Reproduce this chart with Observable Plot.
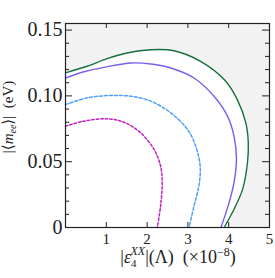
<!DOCTYPE html>
<html><head><meta charset="utf-8">
<script src="https://cdn.jsdelivr.net/npm/d3@7"></script>
<script src="https://cdn.jsdelivr.net/npm/@observablehq/plot@0.6"></script>
<style>body{margin:0;background:#fff;} svg{display:block}</style>
</head><body><div id="chart"></div>
<script>
// Curve data (x in units of 1e-8, y in eV)
const greenX = [0, 0.53, 1.02, 1.51, 2.09, 2.66, 3.31, 3.89, 4.21, 4.42, 4.48, 4.46, 4.34, 4.13, 3.89];
const greenY = [0.1175, 0.1225, 0.1283, 0.1326, 0.1351, 0.1343, 0.1263, 0.1124, 0.0972, 0.0795, 0.0644, 0.0492, 0.029, 0.0139, 0];
const purpleX = [0, 0.5, 1.0, 1.6, 2.09, 2.58, 3.15, 3.64, 3.97, 4.13, 4.19, 4.13, 4.01, 3.81];
const purpleY = [0.1136, 0.1187, 0.122, 0.125, 0.1242, 0.1212, 0.1136, 0.0997, 0.0846, 0.0694, 0.0518, 0.0341, 0.0189, 0];
const blueX = [0, 0.53, 1.10, 1.60, 2.09, 2.58, 2.99, 3.19, 3.30, 3.27, 3.15, 3.03];
const blueY = [0.0934, 0.0985, 0.1003, 0.0997, 0.096, 0.0871, 0.0745, 0.0619, 0.0467, 0.0316, 0.0164, 0];
const magentaX = [0, 0.45, 1.02, 1.43, 1.84, 2.17, 2.33, 2.37, 2.33, 2.25];
const magentaY = [0.077, 0.0808, 0.0826, 0.080, 0.072, 0.0593, 0.0467, 0.0341, 0.0164, 0];
const cornerX = [0];
const cornerY = [0];

const xTickLabels = [1, 2, 3, 4, 5];
const xInnerTicks = [1, 2, 3, 4];
const yTickLabels = [0, 0.05, 0.10, 0.15];
const yMinorTicks = [0.01, 0.02, 0.03, 0.04, 0.06, 0.07, 0.08, 0.09, 0.11, 0.12, 0.13, 0.14];

const W = 275, H = 278, mL = 65, mR = 6, mT = 23, mB = 51;
const fw = W - mL - mR, fh = H - mT - mB;
const pts = (xs, ys) => xs.map((x, i) => ({x, y: ys[i]}));
const green = pts(greenX, greenY);
const fillPoly = green.concat(pts(cornerX, cornerY));
const ink = "#222";
const FONT = "'Liberation Serif', 'Times New Roman', Times, 'DejaVu Serif', serif";

const plot = Plot.plot({
  width: W, height: H,
  marginLeft: mL, marginRight: mR, marginTop: mT, marginBottom: mB,
  style: {fontFamily: FONT, background: "white", color: ink, overflow: "visible"},
  x: {domain: [0, 5]},
  y: {domain: [0, 0.155]},
  marks: [
    Plot.frame({fill: "#f2f2f2", stroke: null}),
    Plot.line(fillPoly, {x: "x", y: "y", fill: "white", stroke: null, curve: "catmull-rom", clip: true}),
    Plot.line(pts(magentaX, magentaY), {x: "x", y: "y", stroke: "#c21fc4", strokeWidth: 1.5, strokeDasharray: "2.5,2", curve: "catmull-rom"}),
    Plot.line(pts(blueX, blueY), {x: "x", y: "y", stroke: "#4d9ffb", strokeWidth: 1.5, strokeDasharray: "3,2", curve: "catmull-rom"}),
    Plot.line(pts(purpleX, purpleY), {x: "x", y: "y", stroke: "#7660f2", strokeWidth: 1.4, curve: "catmull-rom"}),
    Plot.line(green, {x: "x", y: "y", stroke: "#17703f", strokeWidth: 1.4, curve: "catmull-rom"}),
    // inward ticks
    Plot.ruleY(yTickLabels, {y: d => d, insetRight: fw - 7, stroke: ink}),
    Plot.ruleY(yMinorTicks, {y: d => d, insetRight: fw - 4, stroke: ink}),
    Plot.ruleY(yTickLabels, {y: d => d, insetLeft: fw - 7, stroke: ink}),
    Plot.ruleY(yMinorTicks, {y: d => d, insetLeft: fw - 4, stroke: ink}),
    Plot.ruleX(xInnerTicks, {x: d => d, insetTop: fh - 5, stroke: ink}),
    Plot.ruleX(xInnerTicks, {x: d => d, insetBottom: fh - 5, stroke: ink}),
    Plot.frame({stroke: ink, strokeWidth: 1.2}),
    Plot.axisX(xTickLabels, {tickSize: 0, tickPadding: 6, fontSize: 15, fontFamily: FONT, label: null, tickFormat: d => String(d)}),
    Plot.axisY(yTickLabels, {tickSize: 0, tickPadding: 3, fontSize: 20, fontFamily: FONT, label: null, tickFormat: d => d === 0 ? "0" : d.toFixed(2)})
  ]
});
document.getElementById("chart").appendChild(plot);
d3.select(plot).selectAll("text").style("font-family", FONT);

const svg = d3.select(plot);
const yl = svg.append("text")
  .attr("transform", "translate(13,117) rotate(-90)")
  .attr("text-anchor", "middle")
  .attr("font-size", 15)
  .attr("fill", ink)
  .style("font-family", FONT);
yl.append("tspan").text("|\u27E8");
yl.append("tspan").attr("font-style", "italic").text("m");
yl.append("tspan").attr("font-style", "italic").attr("font-size", 10).attr("dy", 3).text("ee");
yl.append("tspan").attr("dy", -3).text("\u27E9|\u00A0\u00A0(eV)");

const xl = svg.append("text")
  .attr("x", 178).attr("y", 263)
  .attr("text-anchor", "middle")
  .attr("font-size", 18)
  .attr("fill", ink)
  .style("font-family", FONT);
xl.append("tspan").text("|");
xl.append("tspan").attr("font-style", "italic").text("\u03B5");
xl.append("tspan").attr("font-size", 11).attr("dy", 4).text("4");
xl.append("tspan").attr("font-size", 12).attr("font-style", "italic").attr("dx", -6).attr("dy", -12).text("XX");
xl.append("tspan").attr("dy", 8).text("|(\u039B)\u00A0\u00A0(\u00D710");
xl.append("tspan").attr("font-size", 12).attr("dy", -7).text("\u22128");
xl.append("tspan").attr("dy", 7).text(")");
</script>
</body></html>
